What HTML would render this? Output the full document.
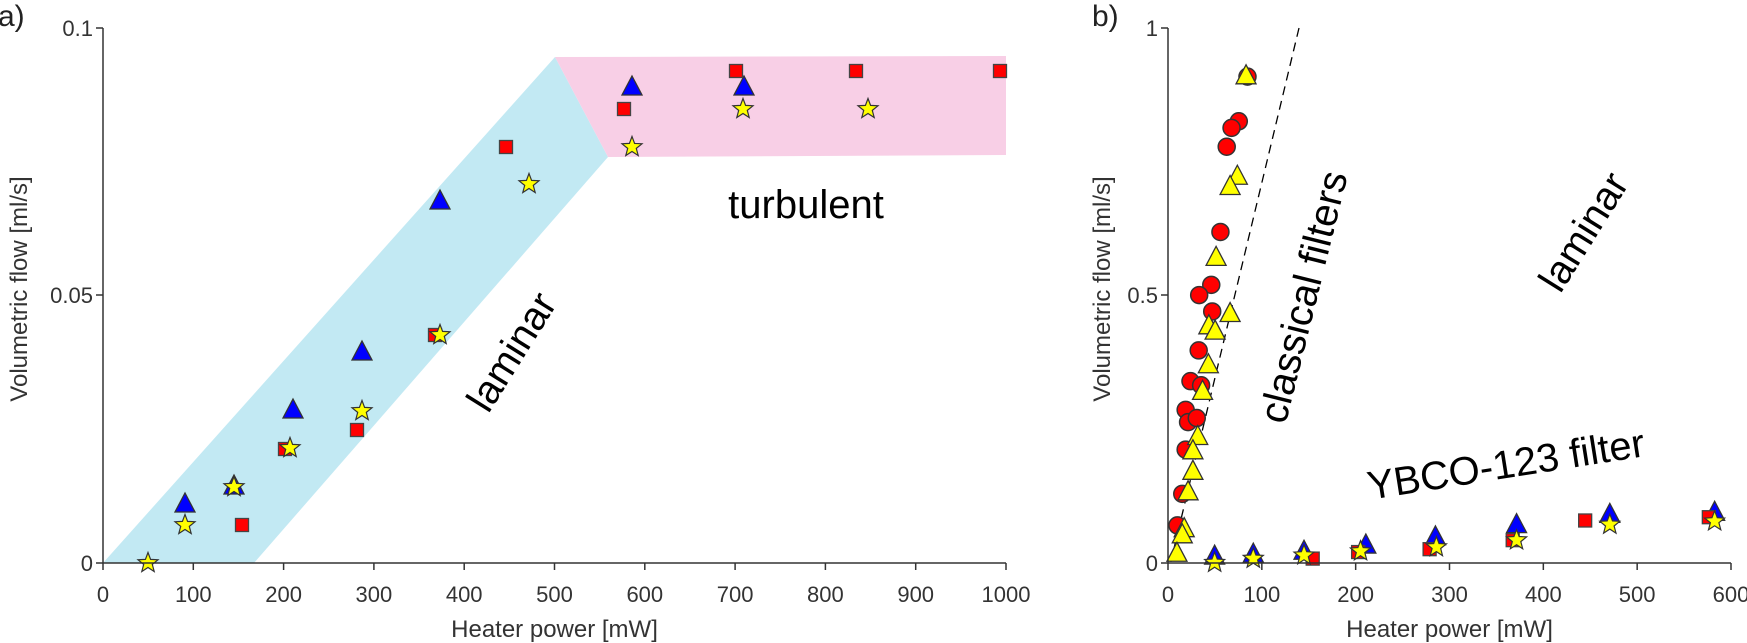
<!DOCTYPE html>
<html><head><meta charset="utf-8"><style>
html,body{margin:0;padding:0;background:#fff;}
svg{display:block;font-family:"Liberation Sans",Arial,sans-serif;}
</style></head><body>
<svg id="s" width="1747" height="643" viewBox="0 0 1747 643" xmlns="http://www.w3.org/2000/svg">
<polygon points="103,563 254,563 608,157 555,57" fill="#c2e9f3"/>
<polygon points="555,57 1006,56 1006,155 608,157" fill="#f8cfe6"/>
<g id="marks"></g>
<g fill="#000" font-size="40" text-anchor="middle" dominant-baseline="central">
<text x="806" y="205">turbulent</text>
<text x="512" y="352" transform="rotate(-58 512 352)">laminar</text>
<text x="1584" y="232" transform="rotate(-58 1584 232)">laminar</text>
<text x="1304" y="297" transform="rotate(-76 1304 297)">classical filters</text>
<text x="1506" y="465" transform="rotate(-9 1506 465)">YBCO-123 filter</text>
</g>
<g fill="#222" font-size="30"><text x="-2" y="26">a)</text><text x="1092" y="26">b)</text></g>
<g id="axes" stroke="#333" stroke-width="1.5" fill="none"></g>
<g id="lbl" fill="#333" font-size="22"></g>
</svg>
<script>
var NS="http://www.w3.org/2000/svg";
function el(p,t,a,txt){var e=document.createElementNS(NS,t);for(var k in a)e.setAttribute(k,a[k]);if(txt!=null)e.textContent=txt;document.getElementById(p).appendChild(e);return e;}
var M="marks";
function tri(x,y,c){el(M,"polygon",{points:(x-10)+","+(y+8)+" "+(x+10)+","+(y+8)+" "+x+","+(y-11),fill:c,stroke:"#333","stroke-width":1.3});}
function sq(x,y){el(M,"rect",{x:x-6.5,y:y-6.5,width:13,height:13,fill:"#f00",stroke:"#444","stroke-width":1.3});}
function circ(x,y){el(M,"circle",{cx:x,cy:y,r:8.5,fill:"#f00",stroke:"#333","stroke-width":1.5});}
function star(x,y){var p=[];for(var i=0;i<10;i++){var r=i%2?4.5:10.5,a=-Math.PI/2+i*Math.PI/5;p.push((x+r*Math.cos(a)).toFixed(1)+","+(y+r*Math.sin(a)).toFixed(1));}el(M,"polygon",{points:p.join(" "),fill:"#ff0",stroke:"#333","stroke-width":1.2});}
[[185,504],[234,486],[293,410],[362,352],[440,201],[632,87],[744,87]].forEach(function(p){tri(p[0],p[1],"#00f")});
[[242,525],[285,449],[357,430],[435,335],[506,147],[624,109],[736,71],[856,71],[1000,71]].forEach(function(p){sq(p[0],p[1])});
[[148,563],[185,525],[234,487],[290,448],[362,411],[440,335],[529,184],[632,147],[743,109],[868,109]].forEach(function(p){star(p[0],p[1])});
function bx(z){return 990+z/2.07} function by(z){return z/2.44}
el(M,"line",{x1:1299,y1:28,x2:1170,y2:565,stroke:"#000","stroke-width":1.3,"stroke-dasharray":"9,6"});
[[533,187],[515,296],[500,312],[490,358],[477,566],[458,695],[433,720],[460,760],[432,855],[415,930],[437,940],[405,1000],[410,1030],[428,1020],[405,1097],[398,1205],[388,1282]].forEach(function(p){circ(bx(p[0]),by(p[1]))});
[[530,185],[512,430],[497,455],[468,628],[497,765],[453,795],[466,808],[452,890],[440,955],[430,1065],[420,1100],[420,1150],[410,1200],[402,1290],[398,1305],[387,1350]].forEach(function(p){tri(bx(p[0]),by(p[1]),"#ff0")});
[[465,1357],[545,1352],[650,1345],[778,1330],[922,1310],[1090,1280],[1283,1255],[1500,1250]].forEach(function(p){tri(bx(p[0]),by(p[1]),"#00f")});
[[668,1363],[762,1347],[910,1340],[1082,1318],[1232,1270],[1488,1262]].forEach(function(p){sq(bx(p[0]),by(p[1]))});
[[465,1373],[545,1363],[650,1355],[767,1345],[924,1335],[1090,1318],[1283,1280],[1500,1272]].forEach(function(p){star(bx(p[0]),by(p[1]))});
function axes(x0,x1,n,labels,ylabs){
 el("axes","path",{d:"M"+x0+",28 V563 H"+x1});
 for(var i=0;i<=n;i++){var x=x0+(x1-x0)*i/n;el("axes","line",{x1:x,y1:563,x2:x,y2:570});
  el("lbl","text",{x:x,y:602,"text-anchor":"middle"},labels[i]);}
 [[28,ylabs[0]],[295,ylabs[1]],[563,ylabs[2]]].forEach(function(t){el("axes","line",{x1:x0-7,y1:t[0],x2:x0,y2:t[0]});
  el("lbl","text",{x:x0-10,y:t[0]+8,"text-anchor":"end"},t[1]);});
 el("lbl","text",{x:(x0+x1)/2,y:637,"text-anchor":"middle","font-size":24},"Heater power [mW]");
}
axes(103,1006,10,["0","100","200","300","400","500","600","700","800","900","1000"],["0.1","0.05","0"]);
axes(1168,1731,6,["0","100","200","300","400","500","600"],["1","0.5","0"]);
el("lbl","text",{x:27,y:289,"text-anchor":"middle","font-size":24,transform:"rotate(-90 27 289)"},"Volumetric flow [ml/s]");
el("lbl","text",{x:1110,y:289,"text-anchor":"middle","font-size":24,transform:"rotate(-90 1110 289)"},"Volumetric flow [ml/s]");
</script>
</body></html>
